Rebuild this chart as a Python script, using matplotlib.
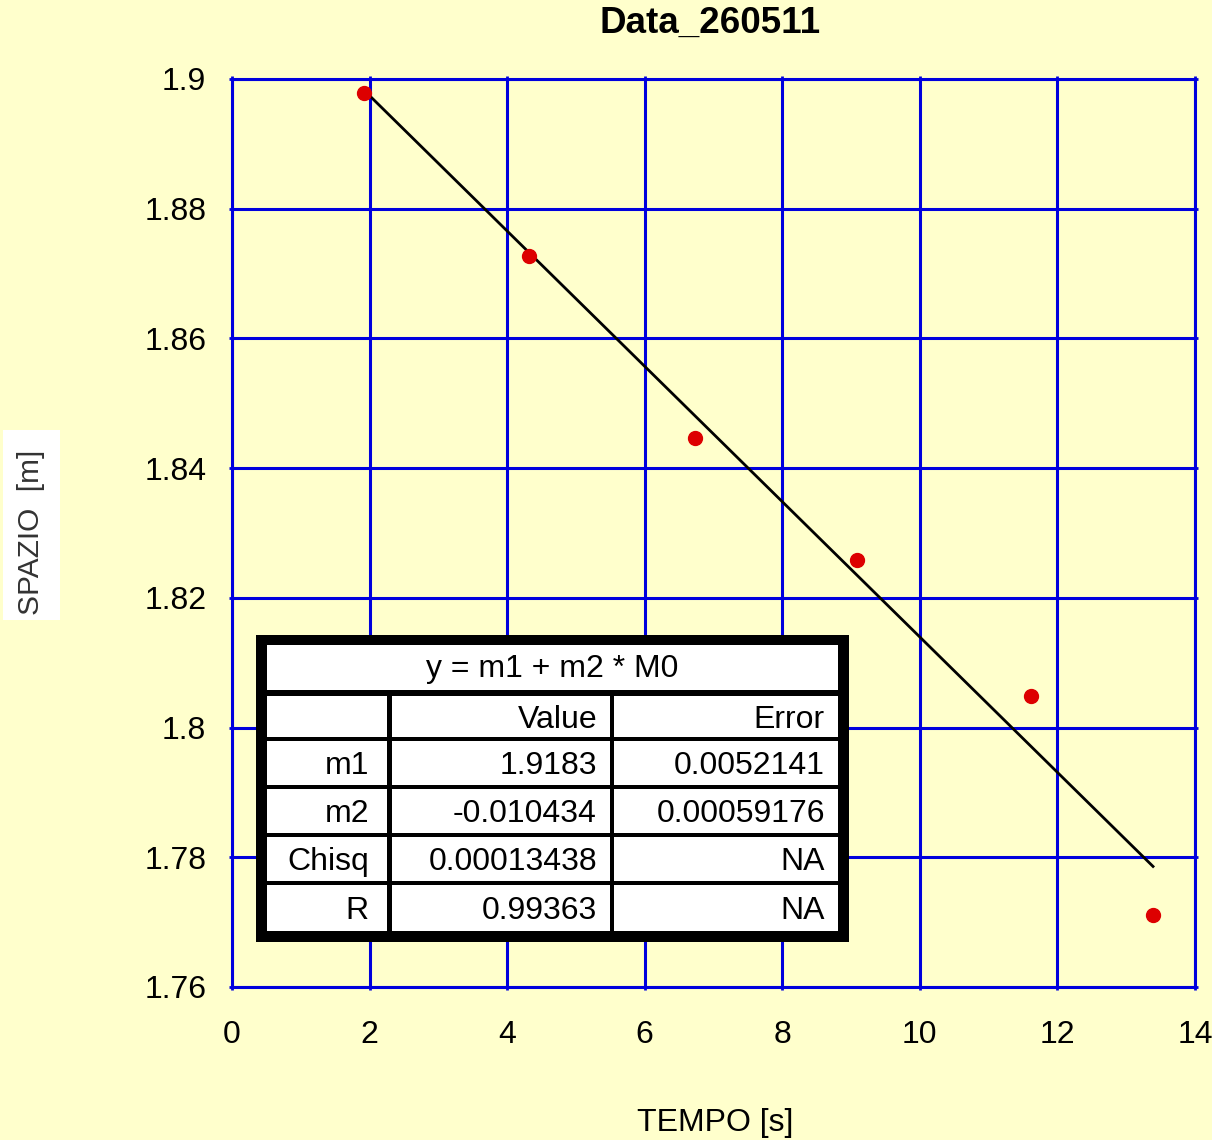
import matplotlib
matplotlib.use("Agg")
import matplotlib.pyplot as plt
from matplotlib.patches import Rectangle
import numpy as np

plt.rcParams["font.family"] = ["Liberation Sans", "DejaVu Sans"]

# measured points
tempo = [1.92, 4.32, 6.73, 9.08, 11.61, 13.39]
spazio = [1.8978, 1.8727, 1.8446, 1.8258, 1.8049, 1.7711]

# linear fit y = m1 + m2 * M0
m1 = 1.9183
m2 = -0.010434

fit_header = "y = m1 + m2 * M0"
col_labels = ["", "Value", "Error"]
row_names = ["m1", "m2", "Chisq", "R"]
row_values = ["1.9183", "-0.010434", "0.00013438", "0.99363"]
row_errors = ["0.0052141", "0.00059176", "NA", "NA"]

x_ticks = [0, 2, 4, 6, 8, 10, 12, 14]
y_ticks = [1.76, 1.78, 1.8, 1.82, 1.84, 1.86, 1.88, 1.9]

BG = "#FFFFCC"
GRID = "#0000DD"
W, H = 1212, 1140

fig = plt.figure(figsize=(W / 100, H / 100), dpi=100, facecolor=BG)
ax = fig.add_axes([232 / W, 1 - 987 / H, 963 / W, 908 / H], facecolor=BG)

ax.set_xlim(0, 14)
ax.set_ylim(1.76, 1.9)
ax.set_xticks(x_ticks)
ax.set_yticks(y_ticks)
ax.set_xticklabels([f"{v:g}" for v in x_ticks])
ax.set_yticklabels([f"{v:g}" for v in y_ticks])
ax.grid(True, color=GRID, linewidth=2.2)
ax.set_axisbelow(True)
for s in ax.spines.values():
    s.set_color(GRID)
    s.set_linewidth(2.2)
ax.tick_params(axis="both", colors=GRID, labelcolor="black", labelsize=23,
               length=5, width=2, direction="inout", top=True, right=True)
ax.tick_params(axis="x", pad=21)
ax.tick_params(axis="y", pad=16)

# fit line across the measured range
xf = np.array([tempo[0], tempo[-1]])
ax.plot(xf, m1 + m2 * xf, color="black", linewidth=2.0, zorder=3)
ax.plot(tempo, spazio, "o", color="#DD0000", markersize=10, zorder=4)

fig.text(710 / W, 1 - 23 / H, "Data_260511", ha="center", va="center",
         fontsize=26.5, fontweight="bold")
fig.text(715 / W, 1 - 1123 / H, "TEMPO [s]", ha="center", va="center", fontsize=23)

# y label on its white patch
fig.patches.append(Rectangle((3 / W, 1 - 620 / H), 57 / W, 190 / H,
                             transform=fig.transFigure, facecolor="white",
                             edgecolor="none", zorder=0))
fig.text(31 / W, 1 - 532 / H, "SPAZIO  [m]", rotation=90, ha="center",
         va="center", fontsize=21.5, color="#333333")

# fit results table, drawn in its own pixel-unit axes
tw, th = 593, 307
tax = fig.add_axes([256 / W, 1 - 942 / H, tw / W, th / H])
tax.set_xlim(0, tw)
tax.set_ylim(th, 0)
tax.axis("off")
tax.add_patch(Rectangle((0, 0), tw, th, facecolor="black", edgecolor="none"))

cols = [(11, 131), (136, 354), (358, 582)]
col_pad = [18, 13, 13]
rows = [(61, 102), (106, 150), (154, 198), (202, 246), (250, 296)]

tax.add_patch(Rectangle((11, 10), 571, 45, facecolor="white", edgecolor="none"))
tax.text(tw / 2, 34, fit_header, ha="center", va="center", fontsize=23)

cells = [col_labels] + [[n, v, e] for n, v, e in zip(row_names, row_values, row_errors)]
for (y0, y1), line in zip(rows, cells):
    for (x0, x1), pad, txt in zip(cols, col_pad, line):
        tax.add_patch(Rectangle((x0, y0), x1 - x0, y1 - y0,
                                facecolor="white", edgecolor="none"))
        if txt:
            tax.text(x1 - pad, (y0 + y1) / 2 + 3, txt, ha="right",
                     va="center", fontsize=23)

fig.savefig("out.png", dpi=100, facecolor=BG)
